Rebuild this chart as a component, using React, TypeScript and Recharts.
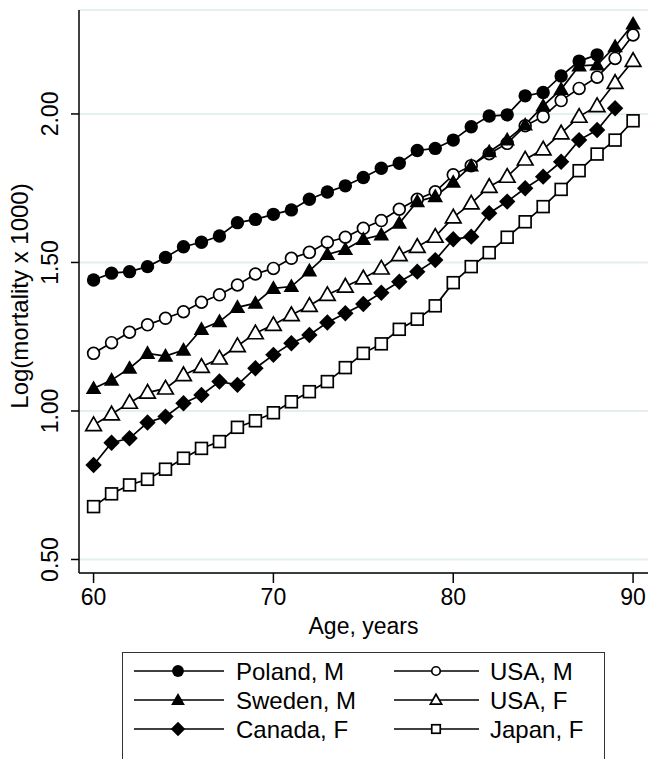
import React from 'react';
import { LineChart, Line, XAxis, YAxis, CartesianGrid, Label } from 'recharts';

// Age in years (x axis)
const ages = [60, 61, 62, 63, 64, 65, 66, 67, 68, 69, 70, 71, 72, 73, 74, 75, 76, 77, 78, 79, 80, 81, 82, 83, 84, 85, 86, 87, 88, 89, 90];

// Log(mortality x 1000), starting at age 60
const polandM = [1.441, 1.464, 1.469, 1.486, 1.517, 1.553, 1.568, 1.589, 1.634, 1.645, 1.662, 1.677, 1.713, 1.737, 1.758, 1.786, 1.817, 1.834, 1.877, 1.884, 1.912, 1.957, 1.993, 1.997, 2.061, 2.072, 2.128, 2.178, 2.199];
const usaM = [1.194, 1.23, 1.265, 1.29, 1.312, 1.334, 1.366, 1.391, 1.424, 1.461, 1.48, 1.514, 1.534, 1.568, 1.585, 1.615, 1.641, 1.679, 1.713, 1.738, 1.795, 1.826, 1.866, 1.901, 1.96, 1.991, 2.045, 2.086, 2.124, 2.187, 2.266];
const swedenM = [1.076, 1.104, 1.144, 1.194, 1.185, 1.205, 1.275, 1.301, 1.349, 1.363, 1.413, 1.419, 1.472, 1.527, 1.544, 1.578, 1.593, 1.632, 1.705, 1.722, 1.77, 1.825, 1.873, 1.913, 1.963, 2.027, 2.083, 2.162, 2.165, 2.227, 2.303];
const usaF = [0.953, 0.989, 1.028, 1.062, 1.076, 1.121, 1.149, 1.177, 1.219, 1.262, 1.29, 1.323, 1.354, 1.391, 1.419, 1.447, 1.48, 1.525, 1.553, 1.587, 1.652, 1.699, 1.755, 1.789, 1.847, 1.881, 1.935, 1.991, 2.027, 2.105, 2.179];
const canadaF = [0.818, 0.893, 0.908, 0.961, 0.981, 1.026, 1.054, 1.099, 1.088, 1.144, 1.189, 1.228, 1.256, 1.298, 1.329, 1.36, 1.398, 1.435, 1.469, 1.508, 1.578, 1.587, 1.666, 1.705, 1.75, 1.789, 1.839, 1.912, 1.946, 2.019];
const japanF = [0.678, 0.721, 0.751, 0.77, 0.804, 0.841, 0.874, 0.897, 0.945, 0.967, 0.994, 1.031, 1.065, 1.099, 1.146, 1.194, 1.226, 1.275, 1.309, 1.354, 1.432, 1.486, 1.533, 1.585, 1.637, 1.688, 1.746, 1.809, 1.865, 1.912, 1.977];

const xTicks = [60, 70, 80, 90];
const yTicks = [0.5, 1.0, 1.5, 2.0];

const FONT = '"Liberation Sans", Arial, Helvetica, sans-serif';

type Shape = 'circleFilled' | 'circleOpen' | 'triFilled' | 'triOpen' | 'diamond' | 'square';

// order matches the legend (row by row)
const series: { name: string; values: number[]; shape: Shape }[] = [
  { name: 'Poland, M', values: polandM, shape: 'circleFilled' },
  { name: 'USA, M', values: usaM, shape: 'circleOpen' },
  { name: 'Sweden, M', values: swedenM, shape: 'triFilled' },
  { name: 'USA, F', values: usaF, shape: 'triOpen' },
  { name: 'Canada, F', values: canadaF, shape: 'diamond' },
  { name: 'Japan, F', values: japanF, shape: 'square' },
];

const Marker = ({ shape, cx, cy, s = 1 }: { shape: Shape; cx: number; cy: number; s?: number }) => {
  const sw = 1.7;
  switch (shape) {
    case 'circleFilled':
      return <circle cx={cx} cy={cy} r={6.7 * s} fill="#000" />;
    case 'circleOpen':
      return <circle cx={cx} cy={cy} r={5.9 * s} fill="#fff" stroke="#000" strokeWidth={sw} />;
    case 'triFilled':
    case 'triOpen': {
      const w = 7.8 * s;
      const pts = `${cx},${cy - 8 * s} ${cx - w},${cy + 5.6 * s} ${cx + w},${cy + 5.6 * s}`;
      return shape === 'triFilled'
        ? <polygon points={pts} fill="#000" />
        : <polygon points={pts} fill="#fff" stroke="#000" strokeWidth={sw} strokeLinejoin="miter" />;
    }
    case 'diamond': {
      const d = 8.2 * s;
      return <polygon points={`${cx},${cy - d} ${cx + d},${cy} ${cx},${cy + d} ${cx - d},${cy}`} fill="#000" />;
    }
    default:
      return <rect x={cx - 5.9 * s} y={cy - 5.9 * s} width={11.8 * s} height={11.8 * s} fill="#fff" stroke="#000" strokeWidth={sw} />;
  }
};

const YTick = (props: any) => {
  const { y, payload } = props;
  const x = 58;
  return (
    <text x={x} y={y} transform={`rotate(-90 ${x} ${y})`} textAnchor="middle" fontFamily={FONT} fontSize={23} fill="#000">
      {Number(payload.value).toFixed(2)}
    </text>
  );
};

const XTick = (props: any) => {
  const { x, payload } = props;
  return (
    <text x={x} y={605} textAnchor="middle" fontFamily={FONT} fontSize={23} fill="#000">
      {payload.value}
    </text>
  );
};

const LegendBox = () => {
  const W = 481;
  const rows = [18, 47, 76];
  const cols = [
    { l1: 11, l2: 101, m: 55, t: 113 },
    { l1: 271, l2: 356, m: 313, t: 367 },
  ];
  return (
    <div style={{ position: 'absolute', left: 122, top: 652, width: W, height: 112, border: '1.5px solid #333', background: '#fff' }}>
      <svg width={W} height={112}>
        {series.map((s, i) => {
          const c = cols[i % 2];
          const y = rows[Math.floor(i / 2)];
          const open = i % 2 === 1;
          return (
            <g key={s.name}>
              <line x1={c.l1} x2={c.l2} y1={y} y2={y} stroke="#000" strokeWidth={1.7} />
              <Marker shape={s.shape} cx={c.m} cy={y} s={open ? 0.72 : 0.88} />
              <text x={c.t} y={y + 8.5} fontFamily={FONT} fontSize={24} fill="#000">{s.name}</text>
            </g>
          );
        })}
      </svg>
    </div>
  );
};

export default function App() {
  return (
    <div style={{ position: 'absolute', left: 0, top: 0, width: 652, height: 759, background: '#fff', overflow: 'hidden' }}>
      <LineChart width={652} height={759} margin={{ top: 10, right: 4, left: 0, bottom: 126 }}>
        <CartesianGrid vertical={false} stroke="#e4efef" strokeWidth={2} />
        <XAxis
          type="number"
          dataKey="age"
          domain={[59.19, 90.83]}
          ticks={xTicks}
          allowDataOverflow
          height={60}
          tick={<XTick />}
          tickSize={10}
          axisLine={{ stroke: '#000', strokeWidth: 1.5 }}
          tickLine={{ stroke: '#000', strokeWidth: 1.5 }}
        >
          <Label
            content={(p: any) => {
              const vb = p.viewBox || {};
              return (
                <text x={vb.x + vb.width / 2} y={634} textAnchor="middle" fontFamily={FONT} fontSize={23} fill="#000">
                  Age, years
                </text>
              );
            }}
          />
        </XAxis>
        <YAxis
          type="number"
          domain={[0.4545, 2.35]}
          ticks={yTicks}
          allowDataOverflow
          width={79}
          tick={<YTick />}
          tickSize={8}
          axisLine={{ stroke: '#000', strokeWidth: 1.5 }}
          tickLine={{ stroke: '#000', strokeWidth: 1.5 }}
        >
          <Label
            content={() => (
              <text x={28} y={296} transform="rotate(-90 28 296)" textAnchor="middle" fontFamily={FONT} fontSize={24} fill="#000">
                Log(mortality x 1000)
              </text>
            )}
          />
        </YAxis>
        {series.map((s) => (
          <Line
            key={s.name}
            name={s.name}
            data={s.values.map((v, i) => ({ age: ages[i], value: v }))}
            dataKey="value"
            type="linear"
            stroke="#000"
            strokeWidth={1.7}
            isAnimationActive={false}
            dot={(p: any) => <Marker key={`${s.name}-${p.index}`} shape={s.shape} cx={p.cx} cy={p.cy} />}
            activeDot={false}
          />
        ))}
      </LineChart>
      <LegendBox />
    </div>
  );
}
